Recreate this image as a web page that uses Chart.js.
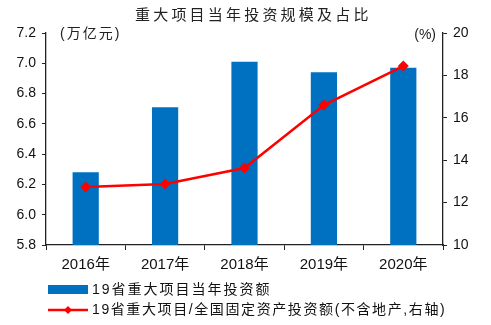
<!DOCTYPE html>
<html>
<head>
<meta charset="utf-8">
<script src="https://cdn.jsdelivr.net/npm/chart.js@4.4.1/dist/chart.umd.min.js"></script>
<style>
  html, body { margin: 0; padding: 0; background: #fff; }
  #wrap { position: relative; width: 491px; height: 325px; }
</style>
</head>
<body>
<div id="wrap"><canvas id="c" width="491" height="325"></canvas></div>
<script>
/* ── DATA ── */
const years      = ['2016年', '2017年', '2018年', '2019年', '2020年'];
const investAmt  = [6.28, 6.71, 7.01, 6.94, 6.97];        // 万亿元
const investPct  = [12.74, 12.88, 13.63, 16.6, 18.44];    // %
const barLabel   = '19省重大项目当年投资额';
const lineLabel  = '19省重大项目/全国固定资产投资额(不含地产,右轴)';
const titleText  = '重大项目当年投资规模及占比';

const FONT   = '"Liberation Sans", Arial, "Noto Sans CJK SC", sans-serif';
const CJK    = '"Liberation Sans", "Noto Sans CJK SC", sans-serif';
const BLUE   = '#0070C0';
const RED    = '#FF0000';
const AXIS   = '#222';

// title, unit labels and legend drawn on the canvas
const decor = {
  id: 'decor',
  afterDraw(chart) {
    const { ctx, chartArea } = chart;
    ctx.save();
    ctx.fillStyle = '#222';
    ctx.textBaseline = 'middle';

    ctx.font = '15px "Noto Sans CJK SC", sans-serif';
    ctx.letterSpacing = '3.2px';
    ctx.textAlign = 'left';
    ctx.fillText(titleText, 135, 14);

    ctx.font = '14px ' + CJK;
    ctx.letterSpacing = '2px';
    ctx.fillText('(万亿元)', 60, chartArea.top + 1);
    ctx.letterSpacing = '0px';
    ctx.textAlign = 'right';
    ctx.fillText('(%)', 436, chartArea.top + 2);

    // legend
    ctx.textAlign = 'left';
    ctx.fillStyle = BLUE;
    ctx.fillRect(48, 285, 40, 9);
    ctx.fillStyle = '#111';
    ctx.letterSpacing = '2px';
    ctx.fillText(barLabel, 92, 290);

    ctx.strokeStyle = RED;
    ctx.lineWidth = 2.5;
    ctx.beginPath();
    ctx.moveTo(48, 310);
    ctx.lineTo(88, 310);
    ctx.stroke();
    ctx.fillStyle = RED;
    ctx.beginPath();
    ctx.moveTo(68, 306); ctx.lineTo(72, 310); ctx.lineTo(68, 314); ctx.lineTo(64, 310);
    ctx.closePath();
    ctx.fill();
    ctx.fillStyle = '#111';
    ctx.letterSpacing = '1.6px';
    ctx.fillText(lineLabel, 92, 310);
    ctx.restore();
  }
};

new Chart(document.getElementById('c').getContext('2d'), {
  type: 'bar',
  plugins: [decor],
  data: {
    labels: years,
    datasets: [
      {
        type: 'line',
        label: lineLabel,
        data: investPct,
        yAxisID: 'y2',
        borderColor: RED,
        backgroundColor: RED,
        borderWidth: 2.5,
        pointStyle: 'rectRot',
        pointRadius: 5.5,
        pointBorderWidth: 0,
        tension: 0,
        order: 0
      },
      {
        type: 'bar',
        label: barLabel,
        data: investAmt,
        yAxisID: 'y',
        backgroundColor: BLUE,
        categoryPercentage: 1,
        barPercentage: 0.33,
        order: 1
      }
    ]
  },
  options: {
    responsive: false,
    animation: false,
    layout: { padding: { top: 33, bottom: 50, left: 0, right: 0 } },
    plugins: {
      legend: { display: false },
      title: { display: false },
      tooltip: { enabled: false }
    },
    scales: {
      x: {
        offset: true,
        grid: { display: true, drawOnChartArea: false, offset: true, tickLength: 5, color: AXIS },
        border: { display: true, color: AXIS, width: 1.3 },
        ticks: { color: '#111', font: { size: 15, family: CJK }, padding: 6 },
        afterFit(s) { s.height = 30; }
      },
      y: {
        position: 'left',
        min: 5.8, max: 7.2,
        grid: { display: true, drawOnChartArea: false, tickLength: 4, color: AXIS },
        border: { display: true, color: AXIS, width: 1.3 },
        ticks: {
          stepSize: 0.2,
          color: '#111',
          font: { size: 14, family: FONT },
          padding: 6,
          callback: v => v.toFixed(1)
        },
        afterFit(s) { s.width = 46; }
      },
      y2: {
        position: 'right',
        min: 10, max: 20,
        grid: { display: true, drawOnChartArea: false, tickLength: 4, color: AXIS },
        border: { display: true, color: AXIS, width: 1.3 },
        ticks: {
          stepSize: 2,
          color: '#111',
          font: { size: 14, family: FONT },
          padding: 6
        },
        afterFit(s) { s.width = 48; }
      }
    }
  }
});
</script>
</body>
</html>
